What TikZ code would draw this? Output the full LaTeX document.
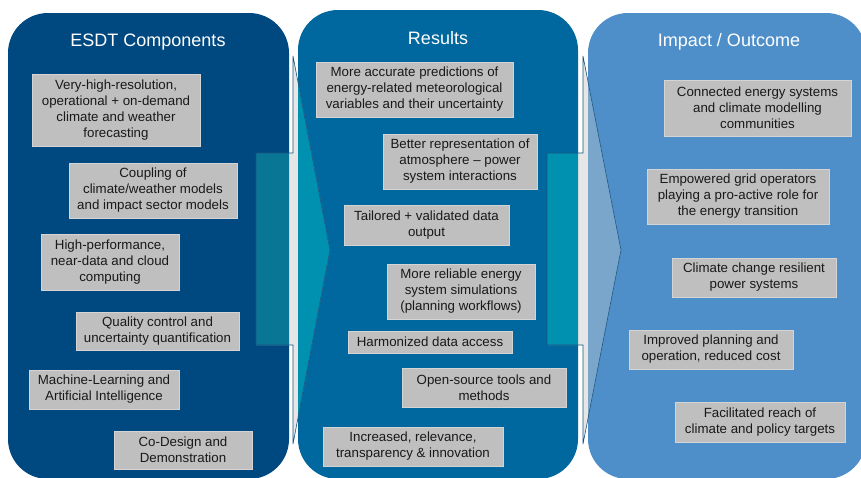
\documentclass[tikz,border=0pt]{standalone}
\usepackage{fontspec}
\setmainfont{Liberation Sans}
\usepackage{xcolor}
\usepackage{tikz}

\definecolor{colone}{RGB}{0,72,128}
\definecolor{coltwo}{RGB}{0,104,158}
\definecolor{colthree}{RGB}{79,143,201}
\definecolor{tealone}{RGB}{10,118,150}
\definecolor{tealtwo}{RGB}{0,144,176}
\definecolor{headtwo}{RGB}{122,166,204}
\definecolor{gapgray}{RGB}{230,230,230}
\definecolor{boxgray}{RGB}{191,191,191}
\definecolor{boxedge}{RGB}{212,212,212}
\definecolor{arrowedge}{RGB}{24,84,128}

\tikzset{every picture/.style={x=1pt,y=-1pt},
  box/.style={rectangle, fill=boxgray, draw=boxedge, line width=0.5pt, align=center,
    inner sep=0pt, text=black!90, font=\fontsize{13.3}{16}\selectfont},
  title/.style={text=white, font=\fontsize{18}{22}\selectfont}}

\newcommand{\arrowone}{(256,153) -- (293,153) -- (293,56) -- (330,250) -- (293,444) -- (293,345) -- (256,345) -- cycle}
\newcommand{\arrowtwo}{(547,153) -- (583,153) -- (583,56) -- (621,250) -- (583,444) -- (583,345) -- (547,345) -- cycle}

\begin{document}
\begin{tikzpicture}

    \useasboundingbox (0,0) rectangle (861,477);
    \clip (0,0) rectangle (861,477);

    % columns
    \fill[colone, rounded corners=40pt] (8,13) rectangle (289,479);
    \fill[coltwo, rounded corners=40pt] (298,10) rectangle (578,479);
    \fill[colthree, rounded corners=40pt] (588,13) rectangle (866,479);

    % first arrow
    \fill[gapgray] \arrowone;
    \begin{scope}
      \clip[rounded corners=40pt] (8,13) rectangle (289,479);
      \fill[tealone] \arrowone;
    \end{scope}
    \begin{scope}
      \clip[rounded corners=40pt] (298,10) rectangle (578,479);
      \fill[tealtwo] \arrowone;
    \end{scope}
    \draw[arrowedge, line width=0.6pt] \arrowone;

    % second arrow
    \fill[gapgray] \arrowtwo;
    \begin{scope}
      \clip[rounded corners=40pt] (298,10) rectangle (578,479);
      \fill[tealtwo] \arrowtwo;
    \end{scope}
    \begin{scope}
      \clip[rounded corners=40pt] (588,13) rectangle (866,479);
      \fill[headtwo] \arrowtwo;
    \end{scope}
    \draw[arrowedge, line width=0.6pt] \arrowtwo;

    % titles
    \node[title] (t1) at (148,42) {ESDT Components};
    \node[title] (t2) at (438,38) {Results};
    \node[title] (t3) at (729,42) {Impact / Outcome};

    % ESDT components
    \node[box, minimum width=168pt, minimum height=72pt] (c1) at (116,110) {Very-high-resolution,\\operational + on-demand\\climate and weather\\forecasting};
    \node[box, minimum width=168pt, minimum height=55pt] (c2) at (153,190.5) {Coupling of\\climate/weather models\\and impact sector models};
    \node[box, minimum width=138pt, minimum height=56pt] (c3) at (110,262) {High-performance,\\near-data and cloud\\computing};
    \node[box, minimum width=163pt, minimum height=38pt] (c4) at (157.5,331) {Quality control and\\uncertainty quantification};
    \node[box, minimum width=150pt, minimum height=39pt] (c5) at (104,389.5) {Machine-Learning and\\Artificial Intelligence};
    \node[box, minimum width=138pt, minimum height=38pt] (c6) at (183,450) {Co-Design and\\Demonstration};

    % results
    \node[box, minimum width=197pt, minimum height=55pt] (r1) at (414.5,89.5) {More accurate predictions of\\energy-related meteorological\\variables and their uncertainty};
    \node[box, minimum width=154pt, minimum height=55pt] (r2) at (460,161.5) {Better representation of\\atmosphere -- power\\system interactions};
    \node[box, minimum width=165pt, minimum height=40pt] (r3) at (426.5,225) {Tailored + validated data\\output};
    \node[box, minimum width=148pt, minimum height=55pt] (r4) at (461,291.5) {More reliable energy\\system simulations\\(planning workflows)};
    \node[box, minimum width=164pt, minimum height=22pt] (r5) at (430,342) {Harmonized data access};
    \node[box, minimum width=164pt, minimum height=39pt] (r6) at (484,387.5) {Open-source tools and\\methods};
    \node[box, minimum width=180pt, minimum height=39pt] (r7) at (413,446.5) {Increased, relevance,\\transparency \& innovation};

    % impact
    \node[box, minimum width=187pt, minimum height=56pt] (i1) at (757.5,108) {Connected energy systems\\and climate modelling\\communities};
    \node[box, minimum width=182pt, minimum height=55pt] (i2) at (738,196.5) {Empowered grid operators\\playing a pro-active role for\\the energy transition};
    \node[box, minimum width=164pt, minimum height=39pt] (i3) at (754,277.5) {Climate change resilient\\power systems};
    \node[box, minimum width=164pt, minimum height=39pt] (i4) at (711,349.5) {Improved planning and\\operation, reduced cost};
    \node[box, minimum width=170pt, minimum height=40pt] (i5) at (760,422) {Facilitated reach of\\climate and policy targets};

  \end{tikzpicture}
\end{document}
